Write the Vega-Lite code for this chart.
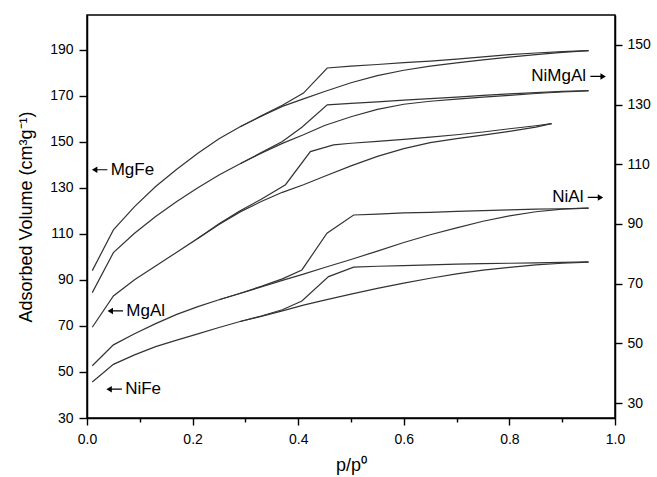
{
  "$schema": "https://vega.github.io/schema/vega-lite/v6.json",
  "width": 528,
  "height": 403,
  "autosize": {"type": "none"},
  "padding": {"left": 87, "top": 15, "right": 42, "bottom": 59},
  "background": "white",
  "config": {
    "view": {"stroke": "black", "strokeWidth": 1.5},
    "font": "Liberation Sans",
    "axis": {
      "domainColor": "black", "domainWidth": 1.5,
      "tickColor": "black", "tickWidth": 1.4,
      "labelFont": "Liberation Sans", "labelFontSize": 14, "labelColor": "black",
      "titleFont": "Liberation Sans", "titleFontSize": 18, "titleFontWeight": "normal", "titleColor": "black",
      "grid": false
    }
  },
  "datasets": {
    "left": [
      {"sample":"MgFe","branch":"ads","p":0.01,"v":94},{"sample":"MgFe","branch":"ads","p":0.05,"v":111.7},{"sample":"MgFe","branch":"ads","p":0.09,"v":121.8},{"sample":"MgFe","branch":"ads","p":0.13,"v":130.5},{"sample":"MgFe","branch":"ads","p":0.17,"v":138},{"sample":"MgFe","branch":"ads","p":0.21,"v":145},{"sample":"MgFe","branch":"ads","p":0.25,"v":151.3},{"sample":"MgFe","branch":"ads","p":0.29,"v":156.5},{"sample":"MgFe","branch":"ads","p":0.33,"v":161},{"sample":"MgFe","branch":"ads","p":0.37,"v":165.3},{"sample":"MgFe","branch":"ads","p":0.41,"v":168.6},{"sample":"MgFe","branch":"ads","p":0.45,"v":171.8},{"sample":"MgFe","branch":"ads","p":0.5,"v":175.6},{"sample":"MgFe","branch":"ads","p":0.55,"v":178.7},{"sample":"MgFe","branch":"ads","p":0.6,"v":181},{"sample":"MgFe","branch":"ads","p":0.65,"v":182.8},{"sample":"MgFe","branch":"ads","p":0.7,"v":184.2},{"sample":"MgFe","branch":"ads","p":0.75,"v":185.5},{"sample":"MgFe","branch":"ads","p":0.8,"v":186.7},{"sample":"MgFe","branch":"ads","p":0.85,"v":187.8},{"sample":"MgFe","branch":"ads","p":0.9,"v":188.8},{"sample":"MgFe","branch":"ads","p":0.95,"v":189.5},
      {"sample":"MgFe","branch":"des","p":0.29,"v":156.5},{"sample":"MgFe","branch":"des","p":0.33,"v":161.2},{"sample":"MgFe","branch":"des","p":0.37,"v":165.8},{"sample":"MgFe","branch":"des","p":0.41,"v":171.1},{"sample":"MgFe","branch":"des","p":0.455,"v":182},{"sample":"MgFe","branch":"des","p":0.5,"v":182.8},{"sample":"MgFe","branch":"des","p":0.55,"v":183.5},{"sample":"MgFe","branch":"des","p":0.6,"v":184.3},{"sample":"MgFe","branch":"des","p":0.65,"v":185},{"sample":"MgFe","branch":"des","p":0.7,"v":185.8},{"sample":"MgFe","branch":"des","p":0.75,"v":186.8},{"sample":"MgFe","branch":"des","p":0.8,"v":187.8},{"sample":"MgFe","branch":"des","p":0.85,"v":188.5},{"sample":"MgFe","branch":"des","p":0.9,"v":189.1},{"sample":"MgFe","branch":"des","p":0.95,"v":189.5},
      {"sample":"MgAl","branch":"ads","p":0.01,"v":69.4},{"sample":"MgAl","branch":"ads","p":0.05,"v":83},{"sample":"MgAl","branch":"ads","p":0.09,"v":90},{"sample":"MgAl","branch":"ads","p":0.13,"v":96},{"sample":"MgAl","branch":"ads","p":0.17,"v":102},{"sample":"MgAl","branch":"ads","p":0.21,"v":108},{"sample":"MgAl","branch":"ads","p":0.25,"v":114},{"sample":"MgAl","branch":"ads","p":0.29,"v":119.5},{"sample":"MgAl","branch":"ads","p":0.33,"v":124},{"sample":"MgAl","branch":"ads","p":0.37,"v":128},{"sample":"MgAl","branch":"ads","p":0.41,"v":131.3},{"sample":"MgAl","branch":"ads","p":0.45,"v":135},{"sample":"MgAl","branch":"ads","p":0.5,"v":139.5},{"sample":"MgAl","branch":"ads","p":0.55,"v":143.6},{"sample":"MgAl","branch":"ads","p":0.6,"v":147},{"sample":"MgAl","branch":"ads","p":0.65,"v":149.6},{"sample":"MgAl","branch":"ads","p":0.7,"v":151.3},{"sample":"MgAl","branch":"ads","p":0.75,"v":152.8},{"sample":"MgAl","branch":"ads","p":0.8,"v":154.5},{"sample":"MgAl","branch":"ads","p":0.85,"v":156.3},{"sample":"MgAl","branch":"ads","p":0.88,"v":157.8},
      {"sample":"MgAl","branch":"des","p":0.21,"v":108},{"sample":"MgAl","branch":"des","p":0.25,"v":114.3},{"sample":"MgAl","branch":"des","p":0.29,"v":120},{"sample":"MgAl","branch":"des","p":0.33,"v":125},{"sample":"MgAl","branch":"des","p":0.376,"v":131.3},{"sample":"MgAl","branch":"des","p":0.423,"v":145.7},{"sample":"MgAl","branch":"des","p":0.467,"v":148.6},{"sample":"MgAl","branch":"des","p":0.5,"v":149.3},{"sample":"MgAl","branch":"des","p":0.55,"v":150.1},{"sample":"MgAl","branch":"des","p":0.6,"v":151},{"sample":"MgAl","branch":"des","p":0.65,"v":152},{"sample":"MgAl","branch":"des","p":0.7,"v":153},{"sample":"MgAl","branch":"des","p":0.75,"v":154.2},{"sample":"MgAl","branch":"des","p":0.8,"v":155.6},{"sample":"MgAl","branch":"des","p":0.85,"v":156.9},{"sample":"MgAl","branch":"des","p":0.88,"v":157.8},
      {"sample":"NiFe","branch":"ads","p":0.01,"v":45.6},{"sample":"NiFe","branch":"ads","p":0.05,"v":53.3},{"sample":"NiFe","branch":"ads","p":0.09,"v":57.4},{"sample":"NiFe","branch":"ads","p":0.13,"v":61},{"sample":"NiFe","branch":"ads","p":0.17,"v":63.8},{"sample":"NiFe","branch":"ads","p":0.21,"v":66.5},{"sample":"NiFe","branch":"ads","p":0.25,"v":69.3},{"sample":"NiFe","branch":"ads","p":0.29,"v":71.9},{"sample":"NiFe","branch":"ads","p":0.33,"v":74.1},{"sample":"NiFe","branch":"ads","p":0.37,"v":76.5},{"sample":"NiFe","branch":"ads","p":0.41,"v":79},{"sample":"NiFe","branch":"ads","p":0.45,"v":81.2},{"sample":"NiFe","branch":"ads","p":0.5,"v":83.8},{"sample":"NiFe","branch":"ads","p":0.55,"v":86.3},{"sample":"NiFe","branch":"ads","p":0.6,"v":88.6},{"sample":"NiFe","branch":"ads","p":0.65,"v":90.7},{"sample":"NiFe","branch":"ads","p":0.7,"v":92.6},{"sample":"NiFe","branch":"ads","p":0.75,"v":94.2},{"sample":"NiFe","branch":"ads","p":0.8,"v":95.4},{"sample":"NiFe","branch":"ads","p":0.85,"v":96.5},{"sample":"NiFe","branch":"ads","p":0.9,"v":97.2},{"sample":"NiFe","branch":"ads","p":0.95,"v":97.7},
      {"sample":"NiFe","branch":"des","p":0.29,"v":71.9},{"sample":"NiFe","branch":"des","p":0.33,"v":74.3},{"sample":"NiFe","branch":"des","p":0.37,"v":77.0},{"sample":"NiFe","branch":"des","p":0.407,"v":80.8},{"sample":"NiFe","branch":"des","p":0.4575,"v":91.4},{"sample":"NiFe","branch":"des","p":0.505,"v":95.5},{"sample":"NiFe","branch":"des","p":0.55,"v":95.9},{"sample":"NiFe","branch":"des","p":0.6,"v":96.2},{"sample":"NiFe","branch":"des","p":0.65,"v":96.5},{"sample":"NiFe","branch":"des","p":0.7,"v":96.8},{"sample":"NiFe","branch":"des","p":0.75,"v":97},{"sample":"NiFe","branch":"des","p":0.8,"v":97.2},{"sample":"NiFe","branch":"des","p":0.85,"v":97.4},{"sample":"NiFe","branch":"des","p":0.9,"v":97.6},{"sample":"NiFe","branch":"des","p":0.95,"v":97.8}
    ],
    "right": [
      {"sample":"NiMgAl","branch":"ads","p":0.01,"v":67.0},{"sample":"NiMgAl","branch":"ads","p":0.05,"v":80.4},{"sample":"NiMgAl","branch":"ads","p":0.09,"v":86.9},{"sample":"NiMgAl","branch":"ads","p":0.13,"v":92.5},{"sample":"NiMgAl","branch":"ads","p":0.17,"v":97.5},{"sample":"NiMgAl","branch":"ads","p":0.21,"v":102.1},{"sample":"NiMgAl","branch":"ads","p":0.25,"v":106.4},{"sample":"NiMgAl","branch":"ads","p":0.29,"v":110.2},{"sample":"NiMgAl","branch":"ads","p":0.33,"v":113.7},{"sample":"NiMgAl","branch":"ads","p":0.37,"v":117.0},{"sample":"NiMgAl","branch":"ads","p":0.41,"v":119.9},{"sample":"NiMgAl","branch":"ads","p":0.45,"v":123.0},{"sample":"NiMgAl","branch":"ads","p":0.5,"v":125.9},{"sample":"NiMgAl","branch":"ads","p":0.55,"v":128.4},{"sample":"NiMgAl","branch":"ads","p":0.6,"v":130.1},{"sample":"NiMgAl","branch":"ads","p":0.65,"v":131.1},{"sample":"NiMgAl","branch":"ads","p":0.7,"v":131.8},{"sample":"NiMgAl","branch":"ads","p":0.75,"v":132.5},{"sample":"NiMgAl","branch":"ads","p":0.8,"v":133.1},{"sample":"NiMgAl","branch":"ads","p":0.85,"v":133.7},{"sample":"NiMgAl","branch":"ads","p":0.9,"v":134.2},{"sample":"NiMgAl","branch":"ads","p":0.95,"v":134.6},
      {"sample":"NiMgAl","branch":"des","p":0.29,"v":110.2},{"sample":"NiMgAl","branch":"des","p":0.33,"v":113.9},{"sample":"NiMgAl","branch":"des","p":0.37,"v":117.6},{"sample":"NiMgAl","branch":"des","p":0.407,"v":122.4},{"sample":"NiMgAl","branch":"des","p":0.455,"v":129.9},{"sample":"NiMgAl","branch":"des","p":0.5,"v":130.4},{"sample":"NiMgAl","branch":"des","p":0.55,"v":130.9},{"sample":"NiMgAl","branch":"des","p":0.6,"v":131.5},{"sample":"NiMgAl","branch":"des","p":0.65,"v":132.0},{"sample":"NiMgAl","branch":"des","p":0.7,"v":132.5},{"sample":"NiMgAl","branch":"des","p":0.75,"v":133.1},{"sample":"NiMgAl","branch":"des","p":0.8,"v":133.6},{"sample":"NiMgAl","branch":"des","p":0.85,"v":134.0},{"sample":"NiMgAl","branch":"des","p":0.9,"v":134.4},{"sample":"NiMgAl","branch":"des","p":0.95,"v":134.7},
      {"sample":"NiAl","branch":"ads","p":0.01,"v":42.5},{"sample":"NiAl","branch":"ads","p":0.05,"v":49.5},{"sample":"NiAl","branch":"ads","p":0.09,"v":53.2},{"sample":"NiAl","branch":"ads","p":0.13,"v":56.6},{"sample":"NiAl","branch":"ads","p":0.17,"v":59.7},{"sample":"NiAl","branch":"ads","p":0.21,"v":62.3},{"sample":"NiAl","branch":"ads","p":0.25,"v":64.6},{"sample":"NiAl","branch":"ads","p":0.29,"v":66.7},{"sample":"NiAl","branch":"ads","p":0.33,"v":68.9},{"sample":"NiAl","branch":"ads","p":0.37,"v":71.1},{"sample":"NiAl","branch":"ads","p":0.41,"v":73.2},{"sample":"NiAl","branch":"ads","p":0.45,"v":75.4},{"sample":"NiAl","branch":"ads","p":0.5,"v":78.1},{"sample":"NiAl","branch":"ads","p":0.55,"v":80.9},{"sample":"NiAl","branch":"ads","p":0.6,"v":83.8},{"sample":"NiAl","branch":"ads","p":0.65,"v":86.4},{"sample":"NiAl","branch":"ads","p":0.7,"v":88.7},{"sample":"NiAl","branch":"ads","p":0.75,"v":90.9},{"sample":"NiAl","branch":"ads","p":0.8,"v":92.7},{"sample":"NiAl","branch":"ads","p":0.85,"v":94.1},{"sample":"NiAl","branch":"ads","p":0.9,"v":95.0},{"sample":"NiAl","branch":"ads","p":0.95,"v":95.3},
      {"sample":"NiAl","branch":"des","p":0.25,"v":64.6},{"sample":"NiAl","branch":"des","p":0.29,"v":66.8},{"sample":"NiAl","branch":"des","p":0.33,"v":69.1},{"sample":"NiAl","branch":"des","p":0.37,"v":71.6},{"sample":"NiAl","branch":"des","p":0.407,"v":74.6},{"sample":"NiAl","branch":"des","p":0.4545,"v":86.9},{"sample":"NiAl","branch":"des","p":0.505,"v":93.0},{"sample":"NiAl","branch":"des","p":0.55,"v":93.3},{"sample":"NiAl","branch":"des","p":0.6,"v":93.7},{"sample":"NiAl","branch":"des","p":0.65,"v":93.9},{"sample":"NiAl","branch":"des","p":0.7,"v":94.2},{"sample":"NiAl","branch":"des","p":0.75,"v":94.5},{"sample":"NiAl","branch":"des","p":0.8,"v":94.7},{"sample":"NiAl","branch":"des","p":0.85,"v":95.0},{"sample":"NiAl","branch":"des","p":0.9,"v":95.1},{"sample":"NiAl","branch":"des","p":0.95,"v":95.3}
    ],
    "labelsLeft": [
      {"label":"MgFe","p":0.024,"v":137.8},
      {"label":"MgAl","p":0.0536,"v":76.5},
      {"label":"NiFe","p":0.0514,"v":42.5}
    ],
    "labelsRight": [
      {"label":"NiMgAl","p":0.968,"v":139.4},
      {"label":"NiAl","p":0.963,"v":98.9}
    ]
  },
  "encoding": {
    "x": {
      "field": "p", "type": "quantitative",
      "scale": {"domain": [0, 1], "nice": false, "zero": false},
      "axis": {
        "values": [0, 0.1, 0.2, 0.3, 0.4, 0.5, 0.6, 0.7, 0.8, 0.9, 1.0],
        "labelExpr": "round(datum.value*10)%2==1 ? '' : format(datum.value,'.1f')",
        "tickSize": {"condition": {"test": "round(datum.value*10)%2==1", "value": 4}, "value": 7},
        "labelPadding": 7,
        "labelOverlap": false,
        "labelFlush": false,
        "title": "p/p⁰",
        "titlePadding": 10
      }
    }
  },
  "layer": [
    {
      "encoding": {
        "y": {
          "field": "v", "type": "quantitative",
          "scale": {"domain": [30, 205], "nice": false, "zero": false},
          "axis": {
            "orient": "left",
            "values": [30, 50, 70, 90, 110, 130, 150, 170, 190],
            "tickSize": 8, "labelPadding": 6,
            "title": "Adsorbed Volume (cm³g⁻¹)",
            "titlePadding": 14
          }
        }
      },
      "layer": [
        {
          "data": {"name": "left"},
          "mark": {"type": "line", "stroke": "#333333", "strokeWidth": 1.2},
          "encoding": {"detail": [{"field": "sample"}, {"field": "branch"}]}
        },
        {
          "data": {"name": "labelsLeft"},
          "mark": {"type": "point", "shape": "M-1,0L-0.3,-0.42L-0.3,-0.08L1,-0.08L1,0.08L-0.3,0.08L-0.3,0.42Z", "size": 240, "filled": true, "color": "black", "opacity": 1, "strokeWidth": 0}
        },
        {
          "data": {"name": "labelsLeft"},
          "mark": {"type": "text", "align": "left", "baseline": "middle", "dx": 11, "fontSize": 17, "font": "Liberation Sans", "color": "black"},
          "encoding": {"text": {"field": "label"}}
        }
      ]
    },
    {
      "encoding": {
        "y": {
          "field": "v", "type": "quantitative",
          "scale": {"domain": [25, 160], "nice": false, "zero": false},
          "axis": {
            "orient": "right",
            "values": [30, 50, 70, 90, 110, 130, 150],
            "tickSize": 7, "labelPadding": 5,
            "title": null
          }
        }
      },
      "layer": [
        {
          "data": {"name": "right"},
          "mark": {"type": "line", "stroke": "#333333", "strokeWidth": 1.2},
          "encoding": {"detail": [{"field": "sample"}, {"field": "branch"}]}
        },
        {
          "data": {"name": "labelsRight"},
          "mark": {"type": "point", "shape": "M1,0L0.3,-0.42L0.3,-0.08L-1,-0.08L-1,0.08L0.3,0.08L0.3,0.42Z", "size": 240, "filled": true, "color": "black", "opacity": 1, "strokeWidth": 0}
        },
        {
          "data": {"name": "labelsRight"},
          "mark": {"type": "text", "align": "right", "baseline": "middle", "dx": -12, "fontSize": 17, "font": "Liberation Sans", "color": "black"},
          "encoding": {"text": {"field": "label"}}
        }
      ]
    }
  ],
  "resolve": {"scale": {"y": "independent"}, "axis": {"y": "independent"}}
}
